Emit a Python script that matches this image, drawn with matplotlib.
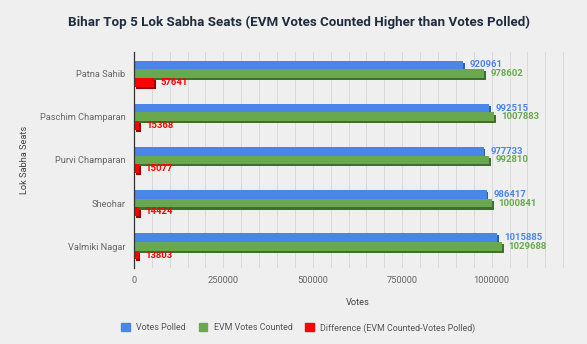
import matplotlib
matplotlib.use("Agg")
import matplotlib.pyplot as plt
import matplotlib.patheffects as pe
from matplotlib.ticker import FuncFormatter
import numpy as np

plt.rcParams['font.family'] = ['Roboto', 'DejaVu Sans']

seats = ["Patna Sahib", "Paschim Champaran", "Purvi Champaran", "Sheohar", "Valmiki Nagar"]
votes_polled = [920961, 992515, 977733, 986417, 1015885]
evm_counted = [978602, 1007883, 992810, 1000841, 1029688]
difference = [57641, 15368, 15077, 14424, 13803]

series_names = ["Votes Polled", "EVM Votes Counted", "Difference (EVM Counted-Votes Polled)"]
colors = ["#4a86e8", "#6aa84f", "#ff0000"]
shadow_colors = ["#2f5fa8", "#3f6e2e", "#9a0000"]
label_colors = ["#4a86e8", "#6aa84f", "#ff0000"]

bg = "#efefef"
fig = plt.figure(figsize=(5.87, 3.44), dpi=100, facecolor=bg)
ax = fig.add_axes([0.228, 0.221, 0.762, 0.628], facecolor=bg)

y = np.arange(len(seats))
h = 0.2
offsets = [-h, 0, h]
for vals, off, c, sc, lc, name in zip([votes_polled, evm_counted, difference],
                                      offsets, colors, shadow_colors, label_colors, series_names):
    ax.barh(y + off, vals, height=h, color=c, label=name, zorder=3,
            path_effects=[pe.SimplePatchShadow(offset=(1.2, -1.5), shadow_rgbFace=sc, alpha=1.0),
                          pe.Normal()])
    for yy, v in zip(y + off, vals):
        ax.text(v + 18000, yy, str(v), va="center", ha="left", fontsize=6.8,
                color=lc, fontweight="bold", zorder=4)

ax.set_xlim(0, 1250000)
ax.set_ylim(len(seats) - 0.5, -0.5)
ax.set_yticks(y)
ax.set_yticklabels(seats)
ax.set_xticks([0, 250000, 500000, 750000, 1000000])
ax.xaxis.set_major_formatter(FuncFormatter(lambda v, p: f"{int(v)}"))
ax.set_xticks(np.arange(0, 1250001, 50000), minor=True)
ax.grid(axis="x", which="both", color="#d9d9d9", linewidth=0.7, zorder=0)
ax.tick_params(axis="both", length=0, labelsize=6.7, labelcolor="#666666", pad=6)
ax.tick_params(axis="x", which="minor", length=0)
for s in ["top", "right", "bottom"]:
    ax.spines[s].set_visible(False)
ax.spines["left"].set_color("#333333")
ax.spines["left"].set_linewidth(0.9)
ax.spines["left"].set_zorder(5)

ax.set_xlabel("Votes", fontsize=6.7, color="#444444", labelpad=9)
ax.set_ylabel("Lok Sabha Seats", fontsize=6.7, color="#444444")
ax.yaxis.set_label_coords(-0.235, 0.5)

fig.text(0.509, 0.935, "Bihar Top 5 Lok Sabha Seats (EVM Votes Counted Higher than Votes Polled)",
         ha="center", va="center", fontsize=9.6, fontweight="bold", color="#1f2d3d")

handles = [plt.Rectangle((0, 0), 1, 1, color=c) for c in colors]
fig.legend(handles, series_names, loc="center", bbox_to_anchor=(0.508, 0.047), ncol=3,
           frameon=False, fontsize=6.4, labelcolor="#555555", handlelength=1.0, handleheight=1.0,
           handletextpad=0.7, columnspacing=1.4)

fig.savefig("out.png", dpi=100, facecolor=bg)
